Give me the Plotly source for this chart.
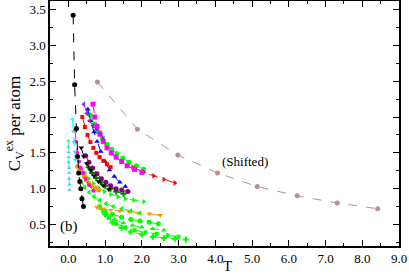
import plotly.graph_objects as go

# ---- data ----
shift_T = [0.79, 1.88, 2.98, 4.06, 5.14, 6.23, 7.32, 8.42]
shift_C = [2.49, 1.83, 1.47, 1.22, 1.03, 0.90, 0.80, 0.72]

black_T = [0.13, 0.17, 0.22, 0.25, 0.28, 0.31, 0.34, 0.37, 0.41]
black_C = [3.42, 2.45, 1.84, 1.45, 1.22, 1.10, 1.00, 0.86, 0.75]

turq_T = [0.00, 0.00, 0.01, 0.01, 0.01, 0.02, 0.02, 0.02, 0.03, 0.03]
turq_C = [1.67, 1.59, 1.51, 1.44, 1.37, 1.29, 1.22, 1.14, 1.06, 0.98]

cyan_T = [0.11, 0.13, 0.15, 0.17, 0.19]
cyan_C = [1.97, 1.80, 1.65, 1.52, 1.40]

mag_c_T = [0.18, 0.20, 0.24, 0.29, 0.34, 0.40, 0.47, 0.56, 0.68]
mag_c_C = [1.82, 1.66, 1.50, 1.38, 1.29, 1.22, 1.14, 1.05, 0.97]

orange_T = [0.25, 0.31, 0.37, 0.43, 0.49, 0.56, 0.64, 0.73, 0.82]
orange_C = [1.31, 1.26, 1.22, 1.17, 1.12, 1.08, 1.04, 1.01, 0.98]

orange_v_T = [0.78, 0.95, 1.15, 1.40, 1.65, 1.90, 2.20, 2.50]
orange_v_C = [0.74, 0.72, 0.70, 0.69, 0.68, 0.66, 0.65, 0.63]

red_s_T = [0.38, 0.45, 0.52, 0.60, 0.68, 0.76, 0.85, 0.95, 1.05, 1.15]
red_s_C = [2.00, 1.86, 1.75, 1.65, 1.57, 1.50, 1.44, 1.39, 1.34, 1.30]

violet_T = [0.42, 0.50, 0.58, 0.67, 0.77, 0.87, 0.95]
violet_C = [2.18, 2.05, 1.95, 1.88, 1.83, 1.78, 1.70]

blue_T = [0.53, 0.60, 0.70, 0.78, 0.88, 1.00, 1.12, 1.25, 1.40, 1.55]
blue_C = [2.11, 1.95, 1.79, 1.66, 1.52, 1.38, 1.26, 1.17, 1.09, 1.03]

green_u_T = [0.60, 0.70, 0.80, 0.92, 1.05, 1.18, 1.32, 1.48, 1.65, 1.85, 2.05]
green_u_C = [2.03, 1.90, 1.80, 1.70, 1.62, 1.55, 1.49, 1.43, 1.37, 1.32, 1.27]

mag_s_T = [0.67, 0.72, 0.78, 0.86, 0.95, 1.05, 1.17, 1.30, 1.45, 1.60, 1.80, 2.00]
mag_s_C = [2.18, 2.00, 1.87, 1.76, 1.66, 1.57, 1.50, 1.44, 1.38, 1.32, 1.27, 1.23]

red_r_T = [1.75, 2.05, 2.32, 2.60, 2.90]
red_r_C = [1.30, 1.23, 1.18, 1.13, 1.08]

blk_v_T = [0.35, 0.42, 0.50, 0.60, 0.70, 0.82, 0.95, 1.10]
blk_v_C = [1.57, 1.45, 1.35, 1.26, 1.18, 1.10, 1.04, 0.99]

purple_T = [0.47, 0.56, 0.66, 0.78, 0.90, 1.02, 1.15, 1.30, 1.45, 1.62]
purple_C = [1.46, 1.37, 1.29, 1.21, 1.14, 1.09, 1.04, 1.00, 0.98, 0.96]

green_m_T = [0.55, 0.65, 0.76, 0.88, 1.00, 1.15, 1.30, 1.50]
green_m_C = [1.30, 1.22, 1.15, 1.09, 1.04, 1.00, 0.96, 0.93]

green_r_T = [0.45, 0.55, 0.68, 0.82, 0.98, 1.15, 1.35, 1.55, 1.78, 2.05]
green_r_C = [1.22, 1.14, 1.07, 1.01, 0.96, 0.92, 0.89, 0.86, 0.84, 0.82]

green_l_T = [0.35, 0.45, 0.57, 0.70, 0.85, 1.02, 1.22, 1.45, 1.70, 1.95]
green_l_C = [1.10, 1.02, 0.95, 0.89, 0.84, 0.79, 0.75, 0.72, 0.69, 0.66]

g1_T = [0.85, 1.00, 1.20, 1.45, 1.70, 1.95, 2.20, 2.45]
g1_C = [0.75, 0.69, 0.64, 0.60, 0.57, 0.55, 0.53, 0.51]
g2_T = [0.90, 1.05, 1.25, 1.50, 1.75, 2.00, 2.30, 2.60]
g2_C = [0.72, 0.64, 0.57, 0.52, 0.49, 0.46, 0.44, 0.42]
g3_T = [0.95, 1.10, 1.30, 1.55, 1.80, 2.10, 2.40, 2.70, 3.00]
g3_C = [0.68, 0.59, 0.51, 0.46, 0.42, 0.39, 0.37, 0.35, 0.33]
g4_T = [1.00, 1.20, 1.45, 1.70, 2.00, 2.30, 2.60, 2.90, 3.20]
g4_C = [0.64, 0.53, 0.45, 0.40, 0.36, 0.33, 0.31, 0.30, 0.29]

x_ticks = [0, 1, 2, 3, 4, 5, 6, 7, 8, 9]
y_ticks = [0.5, 1.0, 1.5, 2.0, 2.5, 3.0, 3.5]

series = [
    (shift_T, shift_C, "#bc8f8f", "circle", 5),
    (g1_T, g1_C, "#00ff00", "circle", 5),
    (g2_T, g2_C, "#00ff00", "triangle-up", 5),
    (g3_T, g3_C, "#00ff00", "square", 4),
    (g4_T, g4_C, "#00ff00", "cross", 5),
    (orange_v_T, orange_v_C, "#ff9900", "triangle-down", 5),
    (green_l_T, green_l_C, "#00ff00", "triangle-left", 5),
    (green_r_T, green_r_C, "#00ff00", "triangle-right", 5),
    (green_u_T, green_u_C, "#00ff00", "circle", 5),
    (red_r_T, red_r_C, "#ff0000", "triangle-right", 5),
    (mag_s_T, mag_s_C, "#ff00ff", "square", 5),
    (blue_T, blue_C, "#0000ff", "triangle-up", 5),
    (violet_T, violet_C, "#8a2be2", "triangle-left", 5),
    (red_s_T, red_s_C, "#ff0000", "square", 4),
    (green_m_T, green_m_C, "#008000", "cross", 5),
    (purple_T, purple_C, "#800080", "circle", 5),
    (blk_v_T, blk_v_C, "#000000", "triangle-down", 5),
    (orange_T, orange_C, "#ff9900", "circle", 5),
    (mag_c_T, mag_c_C, "#ff00ff", "circle", 4),
    (turq_T, turq_C, "#40e0d0", "triangle-up", 4),
    (cyan_T, cyan_C, "#00ffff", "triangle-down", 4),
    (black_T, black_C, "#000000", "circle", 5),
]

fig = go.Figure()
for t, c, col, sym, sz in series:
    fig.add_trace(go.Scatter(
        x=t, y=c, mode="lines+markers",
        line=dict(color=col, width=1, dash="dash"),
        marker=dict(color=col, symbol=sym, size=sz, line=dict(width=0)),
        showlegend=False,
    ))

font_serif = "Times New Roman, Liberation Serif, serif"

fig.add_annotation(x=4.81, y=1.375, text="(Shifted)", showarrow=False,
                   font=dict(family=font_serif, size=13, color="black"))
fig.add_annotation(x=0.02, y=0.47, text="(b)", showarrow=False,
                   font=dict(family=font_serif, size=15, color="black"))
# x-axis title placed as paper-anchored text just below the tick labels
fig.add_annotation(xref="paper", yref="paper", x=0.51, y=-0.080,
                   xanchor="center", yanchor="middle", text="T", showarrow=False,
                   borderpad=0,
                   font=dict(family=font_serif, size=15, color="black"))

axis_common = dict(
    showgrid=False, zeroline=False, showline=True, linecolor="black", linewidth=1.5,
    mirror="allticks", ticks="inside", ticklen=6, tickwidth=1, tickcolor="black",
    tickfont=dict(family=font_serif, size=13, color="black"),
    automargin=False,
)

fig.update_xaxes(
    range=[-0.5, 9.0], tickvals=x_ticks, tickformat=".1f",
    minor=dict(ticks="inside", ticklen=3, dtick=0.5, tick0=0, tickcolor="black"),
    **axis_common,
)
fig.update_yaxes(
    range=[0.2, 3.62], tickvals=y_ticks, tickformat=".1f",
    minor=dict(ticks="inside", ticklen=3, dtick=0.25, tick0=0, tickcolor="black"),
    title=dict(text="C<sub>V</sub><sup>ex</sup> per atom",
               font=dict(family=font_serif, size=17, color="black"), standoff=4),
    **axis_common,
)

fig.update_layout(
    width=409, height=276,
    margin=dict(l=50, r=10, t=1, b=30),
    plot_bgcolor="white", paper_bgcolor="white",
)

fig.write_html(
    "out.html",
    config={"displayModeBar": False},
    post_script="document.body.style.margin='0px';document.body.style.overflow='hidden';",
)
